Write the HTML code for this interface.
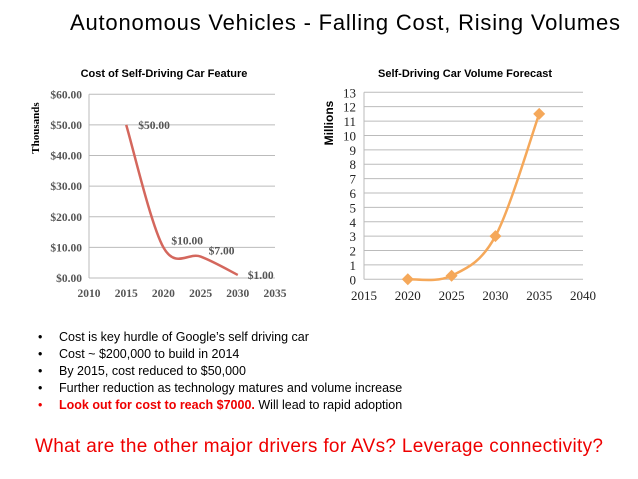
<!DOCTYPE html>
<html><head><meta charset="utf-8"><style>
body{margin:0;background:#fff;}
svg{display:block;font-family:"Liberation Sans",sans-serif;}
</style></head><body>
<svg id="s" width="638" height="479" viewBox="0 0 638 479" xmlns="http://www.w3.org/2000/svg">
<text x="70" y="30" font-size="22" textLength="550" fill="#000">Autonomous Vehicles - Falling Cost, Rising Volumes</text>
<g id="c1"></g>
<g id="c2"></g>
<g font-size="12.5" fill="#000">
<text x="38" y="341">•</text><text x="59" y="341">Cost is key hurdle of Google’s self driving car</text>
<text x="38" y="358">•</text><text x="59" y="358">Cost ~ $200,000 to build in 2014</text>
<text x="38" y="375">•</text><text x="59" y="375">By 2015, cost reduced to $50,000</text>
<text x="38" y="392">•</text><text x="59" y="392">Further reduction as technology matures and volume increase</text>
<text x="38" y="409" fill="#e00">•</text><text x="59" y="409"><tspan fill="#e00" font-weight="bold">Look out for cost to reach $7000.</tspan> Will lead to rapid adoption</text>
</g>
<text x="35" y="452" font-size="19" fill="#e00" textLength="568">What are the other major drivers for AVs?  Leverage connectivity?</text>
</svg>
<script>
const costYears=[2015,2020,2025,2030];
const costValues=[50,10,7,1];
const costLabels=["$50.00","$10.00","$7.00","$1.00"];
const costYTicks=[0,10,20,30,40,50,60];
const costXTicks=[2010,2015,2020,2025,2030,2035];
const volYears=[2020,2025,2030,2035];
const volValues=[0,0.25,3,11.5];
const volYTicks=[0,1,2,3,4,5,6,7,8,9,10,11,12,13];
const volXTicks=[2015,2020,2025,2030,2035,2040];
const NS="http://www.w3.org/2000/svg";
function mk(p,t,a){const e=document.createElementNS(NS,t);for(const k in a)e.setAttribute(k,a[k]);p.appendChild(e);return e;}
function smooth(pts){let d="M"+pts[0][0]+","+pts[0][1];for(let i=0;i<pts.length-1;i++){const p0=pts[i-1]||pts[i],p1=pts[i],p2=pts[i+1],p3=pts[i+2]||p2;const t=1/6;d+=" C"+(p1[0]+(p2[0]-p0[0])*t)+","+(p1[1]+(p2[1]-p0[1])*t)+" "+(p2[0]-(p3[0]-p1[0])*t)+","+(p2[1]-(p3[1]-p1[1])*t)+" "+p2[0]+","+p2[1];}return d;}
// chart 1
(function(){const g=document.getElementById('c1');
const x=v=>89+(v-2010)/25*186, y=v=>278-v/60*183.7;
let t=mk(g,'text',{x:164,y:77,'font-size':11,'font-weight':'bold','text-anchor':'middle'});t.textContent="Cost of Self-Driving Car Feature";

t=mk(g,'text',{x:0,y:0,'font-size':11,'font-weight':'bold','font-family':'Liberation Serif','text-anchor':'middle',transform:'translate(39,128) rotate(-90)'});t.textContent="Thousands";

costYTicks.forEach(v=>{const l=mk(g,'line',{x1:89,x2:275,y1:y(v),y2:y(v),stroke:'#bbb','stroke-width':1});

const tx=mk(g,'text',{x:82,y:y(v)+4,'font-size':11.5,'font-weight':'bold','font-family':'Liberation Serif','text-anchor':'end',fill:'#555'});tx.textContent="$"+v.toFixed(2);
});
let a=mk(g,'line',{x1:89,x2:89,y1:y(60),y2:278,stroke:'#bbb'});
costXTicks.forEach(v=>{const tx=mk(g,'text',{x:x(v),y:297,'font-size':11.5,'font-weight':'bold','font-family':'Liberation Serif','text-anchor':'middle',fill:'#555'});tx.textContent=v;
});
const pts=costYears.map((yr,i)=>[x(yr),y(costValues[i])]);
const p=mk(g,'path',{d:smooth(pts),fill:'none',stroke:'#d4675d','stroke-width':2.5});

const off=[[12,4],[8,-3],[8,-2],[10,4]];
costYears.forEach((yr,i)=>{const tx=mk(g,'text',{x:x(yr)+off[i][0],y:y(costValues[i])+off[i][1],'font-size':11.5,'font-weight':'bold','font-family':'Liberation Serif',fill:'#555'});tx.textContent=costLabels[i];
});
})();
// chart 2
(function(){const g=document.getElementById('c2');
const x=v=>364+(v-2015)/25*219, y=v=>279.3-v/13*187;
let t=mk(g,'text',{x:465,y:77,'font-size':11,'font-weight':'bold','text-anchor':'middle'});t.textContent="Self-Driving Car Volume Forecast";

t=mk(g,'text',{x:0,y:0,'font-size':12,'font-weight':'bold','text-anchor':'middle',transform:'translate(333,123) rotate(-90)'});t.textContent="Millions";

volYTicks.forEach(v=>{const l=mk(g,'line',{x1:364,x2:583,y1:y(v),y2:y(v),stroke:'#bbb','stroke-width':1});

const tx=mk(g,'text',{x:356,y:y(v)+5,'font-size':13,'font-family':'Liberation Serif','text-anchor':'end',fill:'#222'});tx.textContent=v;
});
let a=mk(g,'line',{x1:364,x2:364,y1:y(13),y2:y(0),stroke:'#bbb'});
volXTicks.forEach(v=>{const tx=mk(g,'text',{x:x(v),y:300,'font-size':13,'font-family':'Liberation Serif','text-anchor':'middle',fill:'#222'});tx.textContent=v;
});
const pts=volYears.map((yr,i)=>[x(yr),y(volValues[i])]);
const p=mk(g,'path',{d:smooth(pts),fill:'none',stroke:'#f5a85a','stroke-width':2.5});

pts.forEach(q=>{const m=mk(g,'path',{d:`M${q[0]},${q[1]-6}L${q[0]+6},${q[1]}L${q[0]},${q[1]+6}L${q[0]-6},${q[1]}Z`,fill:'#f5a85a'});
});
})();
</script>
</body></html>
